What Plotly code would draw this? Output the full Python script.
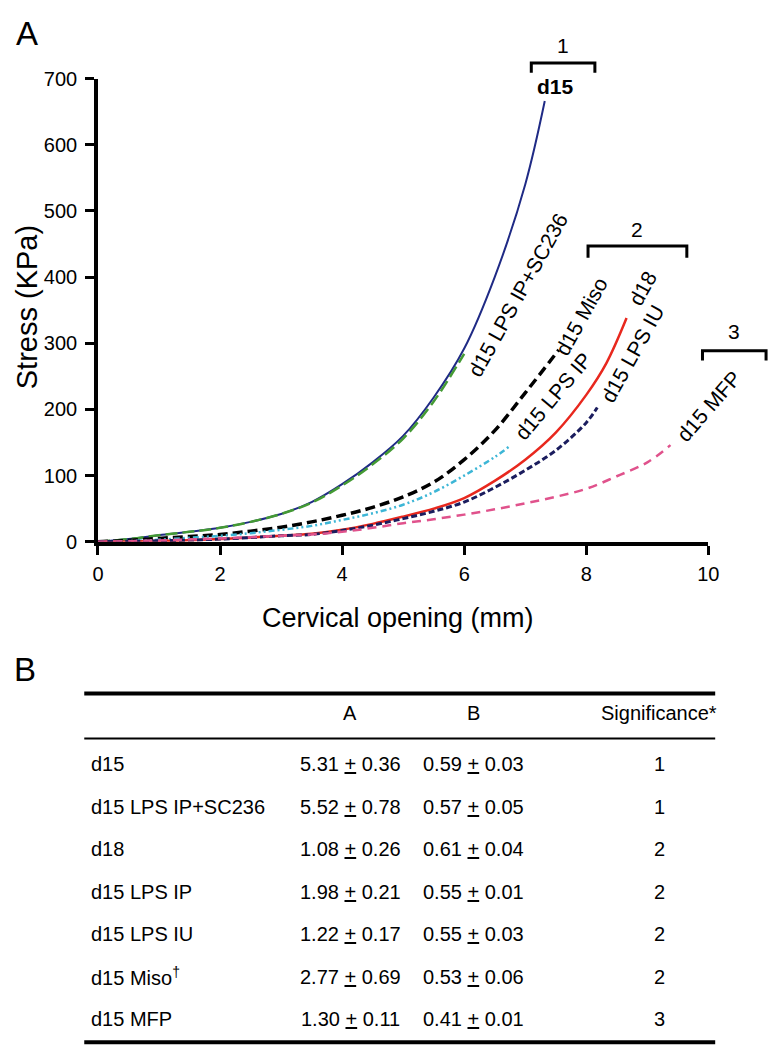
import plotly.graph_objects as go

# ---------------- data: stress-opening curves ----------------
x_d15 = [0, 0.5, 1, 1.5, 2, 2.5, 3, 3.5, 4, 4.5, 5, 5.5, 6, 6.5, 7, 7.32]
y_d15 = [0, 4, 10, 15, 21, 30, 42, 60, 87, 120, 160, 218, 292, 400, 540, 666]

x_sc236 = [0, 0.5, 1, 1.5, 2, 2.5, 3, 3.5, 4, 4.5, 5, 5.5, 6]
y_sc236 = [0, 4, 10, 15, 21, 30, 42, 59, 85, 117, 156, 212, 284]

x_miso = [0, 0.5, 1, 1.5, 2, 2.5, 3, 3.5, 4, 4.5, 5, 5.5, 6, 6.5, 7, 7.55]
y_miso = [0, 2, 5, 8, 11, 16, 22, 30, 40, 52, 68, 90, 124, 168, 225, 290]

x_lpsip = [0, 0.5, 1, 1.5, 2, 2.5, 3, 3.5, 4, 4.5, 5, 5.5, 6, 6.5, 6.74]
y_lpsip = [0, 1, 3, 6, 9, 13, 18, 24, 33, 43, 56, 75, 100, 128, 144]

x_d18 = [0, 1, 2, 3, 3.5, 4, 4.5, 5, 5.5, 6, 6.5, 7, 7.5, 8, 8.33, 8.66]
y_d18 = [0, 1, 4, 9, 12, 18, 27, 38, 50, 66, 92, 124, 165, 222, 270, 338]

x_lpsiu = [0, 1, 2, 3, 3.5, 4, 4.5, 5, 5.5, 6, 6.5, 7, 7.5, 8, 8.18]
y_lpsiu = [0, 1.5, 4, 9, 11, 17, 25, 35, 46, 60, 82, 108, 138, 180, 203]

x_mfp = [0, 1, 2, 3, 3.5, 4, 4.5, 5, 5.5, 6, 6.5, 7, 7.5, 8, 8.5, 9, 9.38]
y_mfp = [0, 2, 5, 9, 11, 15, 21, 28, 34, 41, 49, 58, 68, 80, 99, 120, 146]

x_ticks = [0, 2, 4, 6, 8, 10]
y_ticks = [0, 100, 200, 300, 400, 500, 600, 700]

# ---------------- data: table B ----------------
groups = ["d15", "d15 LPS IP+SC236", "d18", "d15 LPS IP", "d15 LPS IU",
          "d15 Miso<sup>†</sup>", "d15 MFP"]
a_mean = ["5.31", "5.52", "1.08", "1.98", "1.22", "2.77", "1.30"]
a_err = ["0.36", "0.78", "0.26", "0.21", "0.17", "0.69", "0.11"]
b_mean = ["0.59", "0.57", "0.61", "0.55", "0.55", "0.53", "0.41"]
b_err = ["0.03", "0.05", "0.04", "0.01", "0.03", "0.06", "0.01"]
significance = ["1", "1", "2", "2", "2", "2", "3"]
headers = ["A", "B", "Significance*"]

W, H = 780, 1060
FONT = "Liberation Sans, Arial, Helvetica, sans-serif"
TFONT = "Liberation Sans Narrow, Arial Narrow, Liberation Sans, Arial, sans-serif"

# plot-area placement in pixels
X0_PX, X1_PX = 94, 718
Y0_PX, Y1_PX = 542, 69
X_RANGE = [0, 10]
Y_RANGE = [0, 700]


def px(x):
    return x / W


def py(y):
    return 1 - y / H


def data_to_paper(xv, yv):
    fx = X0_PX + (X1_PX - X0_PX) * (xv - X_RANGE[0]) / (X_RANGE[1] - X_RANGE[0])
    fy = Y0_PX + (Y1_PX - Y0_PX) * (yv - Y_RANGE[0]) / (Y_RANGE[1] - Y_RANGE[0])
    return px(fx), py(fy)


fig = go.Figure()

series = [
    (x_d15, y_d15, "d15", "#1f2a85", "solid", 2),
    (x_sc236, y_sc236, "d15 LPS IP+SC236", "#449a34", "12px,5px", 2.5),
    (x_miso, y_miso, "d15 Miso", "#000000", "10px,5px", 3.5),
    (x_lpsip, y_lpsip, "d15 LPS IP", "#3db6d6", "6px,3px,2px,3px,2px,3px", 2.5),
    (x_d18, y_d18, "d18", "#e8281e", "solid", 2.5),
    (x_lpsiu, y_lpsiu, "d15 LPS IU", "#1b1d5e", "6px,3px", 3),
    (x_mfp, y_mfp, "d15 MFP", "#e0528c", "9px,6px", 2.5),
]
for xs, ys, name, col, dash, w in series:
    fig.add_trace(go.Scatter(x=xs, y=ys, mode="lines", name=name,
                             line=dict(color=col, dash=dash, width=w,
                                       shape="spline", smoothing=1.0),
                             showlegend=False))

ann = []
# curve labels (positions in data units, converted to paper so none get hidden)
curve_labels = [
    ("d15 LPS IP+SC236", 6.88, 374, -61),
    ("d15 Miso", 7.92, 340, -61),
    ("d15 LPS IP", 7.45, 220, -50),
    ("d18", 8.92, 383, -61),
    ("d15 LPS IU", 8.76, 284, -61),
    ("d15 MFP", 10.0, 205, -49),
]
for t, x, y, a in curve_labels:
    xp, yp = data_to_paper(x, y)
    ann.append(dict(text=t, x=xp, y=yp, xref="paper", yref="paper", showarrow=False,
                    textangle=a, font=dict(family=FONT, size=21, color="black"),
                    xanchor="center", yanchor="middle"))
xp, yp = data_to_paper(7.5, 688)
ann.append(dict(text="<b>d15</b>", x=xp, y=yp, xref="paper", yref="paper", showarrow=False,
                font=dict(family=FONT, size=21, color="black"),
                xanchor="center", yanchor="middle"))

# significance brackets
shapes = []
brackets = [("1", 537, 602, 53, 63, 35), ("2", 595, 696, 240, 252, 223),
            ("3", 712, 777, 347, 357, 327)]
for lab, x0, x1, yt, yb, yl in brackets:
    shapes.append(dict(type="path", xref="paper", yref="paper",
                       path=f"M {px(x0)},{py(yb)} L {px(x0)},{py(yt)} L {px(x1)},{py(yt)} L {px(x1)},{py(yb)}",
                       line=dict(color="black", width=3)))
    ann.append(dict(text=lab, x=px((x0 + x1) / 2), y=py(yl), xref="paper", yref="paper",
                    showarrow=False, font=dict(family=FONT, size=21, color="black"),
                    xanchor="center", yanchor="middle"))

# panel letters and axis titles
ann.append(dict(text="A", x=px(21), y=py(23), xref="paper", yref="paper", showarrow=False,
                font=dict(family=FONT, size=33, color="black"), xanchor="center", yanchor="middle"))
ann.append(dict(text="B", x=px(19), y=py(672), xref="paper", yref="paper", showarrow=False,
                font=dict(family=FONT, size=33, color="black"), xanchor="center", yanchor="middle"))
ann.append(dict(text="Cervical opening (mm)", x=px(401), y=py(620), xref="paper", yref="paper",
                showarrow=False, font=dict(family=FONT, size=27, color="black"),
                xanchor="center", yanchor="middle"))
ann.append(dict(text="Stress (KPa)", x=px(21), y=py(303), xref="paper", yref="paper",
                showarrow=False, textangle=-90, font=dict(family=FONT, size=29, color="black"),
                xanchor="center", yanchor="middle"))

# table B
col_x = [352, 478, 668]
for h, cx in zip(headers, col_x):
    ann.append(dict(text=h, x=px(cx), y=py(717), xref="paper", yref="paper", showarrow=False,
                    font=dict(family=TFONT, size=20, color="black"),
                    xanchor="center", yanchor="middle"))
row_y0, row_dy = 769, 43.4
for i, g in enumerate(groups):
    yy = py(row_y0 + i * row_dy)
    ann.append(dict(text=g, x=px(85), y=yy, xref="paper", yref="paper", showarrow=False,
                    font=dict(family=TFONT, size=20, color="black"),
                    xanchor="left", yanchor="middle"))
    ann.append(dict(text=f"{a_mean[i]} <u>+</u> {a_err[i]}", x=px(col_x[0]), y=yy,
                    xref="paper", yref="paper", showarrow=False,
                    font=dict(family=TFONT, size=20, color="black"),
                    xanchor="center", yanchor="middle"))
    ann.append(dict(text=f"{b_mean[i]} <u>+</u> {b_err[i]}", x=px(col_x[1]), y=yy,
                    xref="paper", yref="paper", showarrow=False,
                    font=dict(family=TFONT, size=20, color="black"),
                    xanchor="center", yanchor="middle"))
    ann.append(dict(text=significance[i], x=px(col_x[2]), y=yy,
                    xref="paper", yref="paper", showarrow=False,
                    font=dict(family=TFONT, size=20, color="black"),
                    xanchor="center", yanchor="middle"))

for yline, wline in [(697, 4), (743, 2), (1053, 4)]:
    shapes.append(dict(type="line", xref="paper", yref="paper",
                       x0=px(80), x1=px(725), y0=py(yline), y1=py(yline),
                       line=dict(color="black", width=wline)))

axis_common = dict(showline=True, linecolor="black", linewidth=3.5, ticks="outside",
                   ticklen=9, tickwidth=3, tickcolor="black", showgrid=False, zeroline=False,
                   tickfont=dict(family=FONT, size=20, color="black"))

fig.update_layout(
    width=W, height=H, margin=dict(l=0, r=0, t=0, b=0),
    paper_bgcolor="white", plot_bgcolor="white",
    xaxis=dict(domain=[px(X0_PX), px(X1_PX)], range=X_RANGE, tickvals=x_ticks,
               ticklabelstandoff=2, **axis_common),
    yaxis=dict(domain=[py(Y0_PX), py(Y1_PX)], range=Y_RANGE, tickvals=y_ticks,
               ticklabelstandoff=4, **axis_common),
    annotations=ann, shapes=shapes,
)

fig.write_html("out.html", config={"displayModeBar": False},
               post_script="document.body.style.margin='0px';document.body.style.overflow='hidden';")
